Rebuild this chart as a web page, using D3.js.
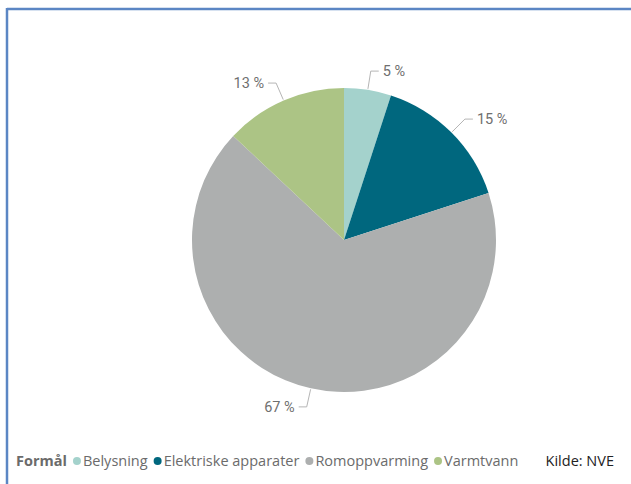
<!DOCTYPE html>
<html>
<head>
<meta charset="utf-8">
<script src="https://cdn.jsdelivr.net/npm/d3@7"></script>
<style>
  html, body { margin: 0; padding: 0; background: #ffffff; }
  svg { display: block; }
</style>
</head>
<body>
<svg id="chart" width="631" height="484"></svg>
<script>
// Energy use by purpose (share of total, %)
const categories = ["Belysning", "Elektriske apparater", "Romoppvarming", "Varmtvann"];
const shares = [5, 15, 67, 13];
const colors = ["#a4d2cc", "#00677e", "#adafaf", "#acc485"];
const legendTitle = "Formål";
const sourceText = "Kilde: NVE";

const svg = d3.select("#chart");
const W = 631, H = 484;

// Frame along top and left edge
svg.append("line").attr("x1", 7).attr("x2", W).attr("y1", 9).attr("y2", 9)
  .attr("stroke", "#5b86c4").attr("stroke-width", 2.5);
svg.append("line").attr("x1", 7).attr("x2", 7).attr("y1", 8).attr("y2", H)
  .attr("stroke", "#5b86c4").attr("stroke-width", 2.5);

const cx = 344, cy = 240, radius = 152;
const data = categories.map((c, i) => ({ cat: c, value: shares[i], color: colors[i] }));

const pie = d3.pie().value(d => d.value).sort(null);
const arcs = pie(data);
const arc = d3.arc().innerRadius(0).outerRadius(radius);

const g = svg.append("g").attr("transform", `translate(${cx},${cy})`);
g.selectAll("path.slice").data(arcs).join("path")
  .attr("class", "slice")
  .attr("d", arc)
  .attr("fill", d => d.data.color);

// Leader lines and percentage labels
const elbowR = 171, horiz = 8, gap = 4;
arcs.forEach(a => {
  const mid = (a.startAngle + a.endAngle) / 2;
  const sx = Math.sin(mid), sy = -Math.cos(mid);
  const p0 = [sx * (radius + 1), sy * (radius + 1)];
  const p1 = [sx * elbowR, sy * elbowR];
  const dir = sx >= 0 ? 1 : -1;
  const p2 = [p1[0] + dir * horiz, p1[1]];
  g.append("polyline")
    .attr("points", [p0, p1, p2].map(p => p.join(",")).join(" "))
    .attr("fill", "none").attr("stroke", "#b5b5b5").attr("stroke-width", 1);
  g.append("text")
    .attr("x", p2[0] + dir * gap)
    .attr("y", p2[1])
    .attr("dy", "0.35em")
    .attr("text-anchor", dir > 0 ? "start" : "end")
    .attr("font-family", "Roboto, sans-serif")
    .attr("font-size", 14.5)
    .attr("fill", "#6f6f6f")
    .text(`${a.data.value} %`);
});

// Legend
const legend = svg.append("g").attr("transform", "translate(16,461)")
  .attr("font-family", "'Open Sans', 'Noto Sans', sans-serif")
  .attr("font-size", 14.5);
const titleEl = legend.append("text").attr("x", 0).attr("y", 0).attr("dy", "0.35em")
  .attr("font-weight", "bold").attr("fill", "#6b6b6b").text(legendTitle);
let xPos = titleEl.node().getComputedTextLength() + 6;
data.forEach(d => {
  legend.append("circle").attr("cx", xPos + 4).attr("cy", 0).attr("r", 4).attr("fill", d.color);
  const t = legend.append("text").attr("x", xPos + 10).attr("y", 0).attr("dy", "0.35em")
    .attr("fill", "#6b6b6b").text(d.cat);
  xPos += 10 + t.node().getComputedTextLength() + 6;
});

svg.append("text").attr("x", 614).attr("y", 461).attr("dy", "0.35em")
  .attr("text-anchor", "end")
  .attr("font-family", "'Open Sans', 'Noto Sans', sans-serif")
  .attr("font-size", 14.5).attr("fill", "#222222")
  .text(sourceText);
</script>
</body>
</html>
